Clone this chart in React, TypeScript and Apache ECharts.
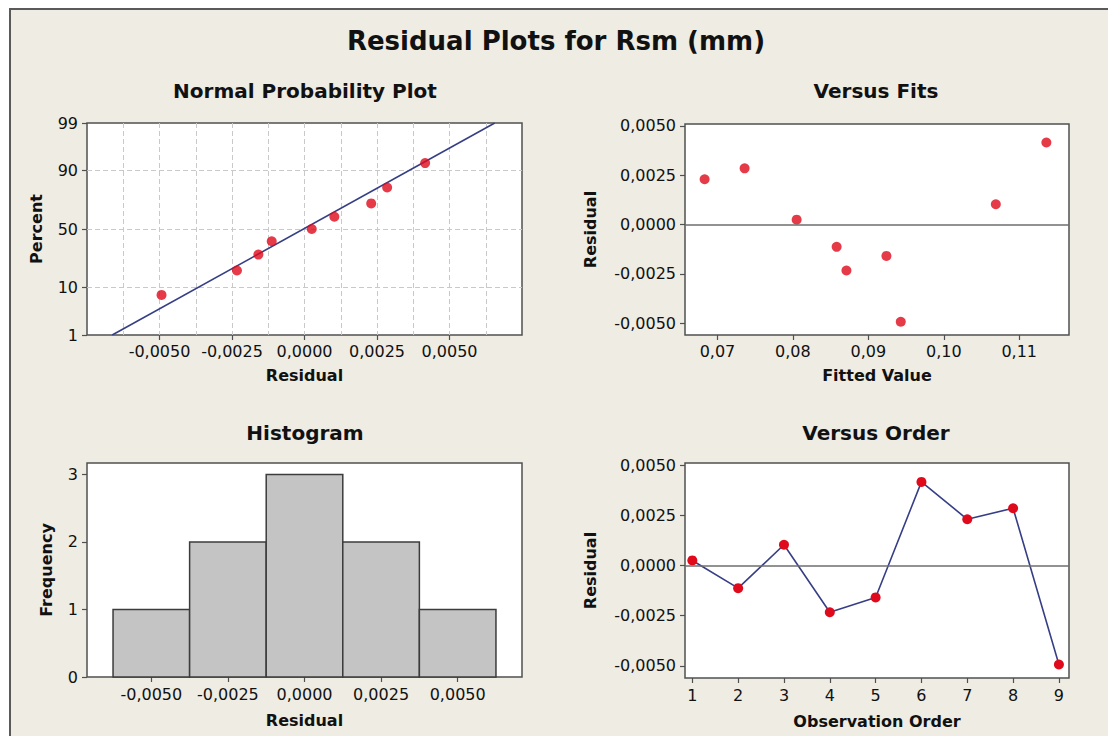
import React, { useEffect, useRef } from "react";
import * as echarts from "echarts";

// ---- data ----
const observationOrder = [1, 2, 3, 4, 5, 6, 7, 8, 9];
const residuals = [0.00025, -0.00113, 0.00103, -0.00233, -0.00159, 0.00416, 0.0023, 0.00285, -0.00493];
const fittedValues = [0.0805, 0.0858, 0.1069, 0.0871, 0.0924, 0.1136, 0.0683, 0.0736, 0.0943];
const nppPercents = [7.4, 18.1, 28.7, 39.4, 50, 60.6, 71.3, 81.9, 92.6];
const nppFitResidual = [-0.00663, 0.00656];
const nppFitPercent = [1, 99];
const percentTicks = [1, 10, 50, 90, 99];
const residualTicks = [-0.005, -0.0025, 0, 0.0025, 0.005];
const fittedTicks = [0.07, 0.08, 0.09, 0.1, 0.11];
const orderTicks = [1, 2, 3, 4, 5, 6, 7, 8, 9];
const histBinCenters = [-0.005, -0.0025, 0, 0.0025, 0.005];
const histCounts = [1, 2, 3, 2, 1];
const histBinWidth = 0.0025;
const freqTicks = [0, 1, 2, 3];

// inverse standard normal CDF (probability-axis scale)
function probit(p: number): number {
  const a = [-3.969683028665376e1, 2.209460984245205e2, -2.759285104469687e2, 1.38357751867269e2, -3.066479806614716e1, 2.506628277459239];
  const b = [-5.447609879822406e1, 1.615858368580409e2, -1.556989798598866e2, 6.680131188771972e1, -1.328068155288572e1];
  const c = [-7.784894002430293e-3, -3.223964580411365e-1, -2.400758277161838, -2.549732539343734, 4.374664141464968, 2.938163982698783];
  const d = [7.784695709041462e-3, 3.224671290700398e-1, 2.445134137142996, 3.754408661907416];
  const pl = 0.02425;
  if (p < pl) {
    const q = Math.sqrt(-2 * Math.log(p));
    return (((((c[0] * q + c[1]) * q + c[2]) * q + c[3]) * q + c[4]) * q + c[5]) / ((((d[0] * q + d[1]) * q + d[2]) * q + d[3]) * q + 1);
  }
  if (p > 1 - pl) {
    const q = Math.sqrt(-2 * Math.log(1 - p));
    return -(((((c[0] * q + c[1]) * q + c[2]) * q + c[3]) * q + c[4]) * q + c[5]) / ((((d[0] * q + d[1]) * q + d[2]) * q + d[3]) * q + 1);
  }
  const q = p - 0.5;
  const r = q * q;
  return ((((((a[0] * r + a[1]) * r + a[2]) * r + a[3]) * r + a[4]) * r + a[5]) * q) / (((((b[0] * r + b[1]) * r + b[2]) * r + b[3]) * r + b[4]) * r + 1);
}

const FONT = "DejaVu Sans";
const BG = "#eeece3";
const FRAME = "#505050";
const RED = "#df0a1c";
const NAVY = "#363f85";
const fmt = (v: number, dec: number) => (Math.abs(v) < 1e-12 ? 0 : v).toFixed(dec).replace(".", ",");

const labelStyle = { color: "#111", fontFamily: FONT, fontSize: 16 };
const nameStyle = { color: "#111", fontFamily: FONT, fontSize: 16, fontWeight: "bold" as const };
const tickStyle = { show: true, length: 5, lineStyle: { color: FRAME, width: 1.2 } };
const noLine = { show: false, onZero: false };
const dashedGrid = { show: true, showMinLine: false, showMaxLine: false, lineStyle: { color: "#c9c9c9", type: [5, 3], width: 1 } };

export default function App() {
  const ref = useRef<HTMLDivElement>(null);
  useEffect(() => {
    if (!ref.current) return;
    const chart = echarts.init(ref.current, null, { renderer: "svg" });

    const sortedRes = [...residuals].sort((a, b) => a - b);
    const zMin = probit(0.01);
    const zMax = probit(0.99);
    const percentZ = percentTicks.map((p) => probit(p / 100));

    const gridBase = { show: true, backgroundColor: "#ffffff", borderColor: FRAME, borderWidth: 1.5, containLabel: false };

    const zeroLine = {
      silent: true,
      symbol: "none",
      label: { show: false },
      lineStyle: { color: "#6e6e6e", width: 1.5, type: "solid" },
      data: [{ yAxis: 0 }],
    };

    const option: any = {
      animation: false,
      backgroundColor: "#ffffff",
      graphic: [
        { type: "rect", z: -10, shape: { x: 10, y: 9, width: 1110, height: 740 }, style: { fill: BG, stroke: "#5a5a5a", lineWidth: 2 } },
        { type: "text", x: 556, y: 41, style: { text: "Residual Plots for Rsm (mm)", font: `bold 26px ${FONT}`, fill: "#111", textAlign: "center", textVerticalAlign: "middle" } },
        { type: "text", x: 305, y: 91, style: { text: "Normal Probability Plot", font: `bold 20px ${FONT}`, fill: "#111", textAlign: "center", textVerticalAlign: "middle" } },
        { type: "text", x: 876, y: 91, style: { text: "Versus Fits", font: `bold 20px ${FONT}`, fill: "#111", textAlign: "center", textVerticalAlign: "middle" } },
        { type: "text", x: 305, y: 433, style: { text: "Histogram", font: `bold 20px ${FONT}`, fill: "#111", textAlign: "center", textVerticalAlign: "middle" } },
        { type: "text", x: 876, y: 433, style: { text: "Versus Order", font: `bold 20px ${FONT}`, fill: "#111", textAlign: "center", textVerticalAlign: "middle" } },
      ],
      grid: [
        { ...gridBase, left: 87, top: 123, width: 435, height: 212 },
        { ...gridBase, left: 685, top: 124, width: 384, height: 211 },
        { ...gridBase, left: 87, top: 463, width: 435, height: 214 },
        { ...gridBase, left: 685, top: 463, width: 384, height: 215 },
      ],
      xAxis: [
        // 0: NPP grid lines
        {
          type: "value", gridIndex: 0, position: "bottom", min: -0.0075, max: 0.0075, interval: 0.00125,
          axisLine: noLine, axisTick: { show: false }, axisLabel: { show: false },
          splitLine: dashedGrid,
        },
        // 1: NPP labels
        {
          type: "value", gridIndex: 0, position: "bottom", min: -0.0075, max: 0.0075,
          axisLine: noLine, splitLine: { show: false },
          axisTick: { ...tickStyle, customValues: residualTicks },
          axisLabel: { ...labelStyle, margin: 8, customValues: residualTicks, formatter: (v: number) => fmt(v, 4) },
          name: "Residual", nameLocation: "middle", nameGap: 32, nameTextStyle: nameStyle,
        },
        // 2: Versus Fits
        {
          type: "value", gridIndex: 1, position: "bottom", min: 0.0657, max: 0.1166,
          axisLine: noLine, splitLine: { show: false },
          axisTick: { ...tickStyle, customValues: fittedTicks },
          axisLabel: { ...labelStyle, margin: 8, customValues: fittedTicks, formatter: (v: number) => fmt(v, 2) },
          name: "Fitted Value", nameLocation: "middle", nameGap: 32, nameTextStyle: nameStyle,
        },
        // 3: Histogram
        {
          type: "value", gridIndex: 2, position: "bottom", min: -0.0071, max: 0.0071,
          axisLine: noLine, splitLine: { show: false },
          axisTick: { ...tickStyle, customValues: histBinCenters },
          axisLabel: { ...labelStyle, margin: 9, customValues: residualTicks, formatter: (v: number) => fmt(v, 4) },
          name: "Residual", nameLocation: "middle", nameGap: 35, nameTextStyle: nameStyle,
        },
        // 4: Versus Order
        {
          type: "value", gridIndex: 3, position: "bottom", min: 0.84, max: 9.22,
          axisLine: noLine, splitLine: { show: false },
          axisTick: { ...tickStyle, customValues: orderTicks },
          axisLabel: { ...labelStyle, margin: 9, customValues: orderTicks, formatter: (v: number) => String(Math.round(v)) },
          name: "Observation Order", nameLocation: "middle", nameGap: 35, nameTextStyle: nameStyle,
        },
      ],
      yAxis: [
        {
          type: "value", gridIndex: 0, position: "left", min: zMin, max: zMax,
          axisLine: noLine,
          axisTick: { ...tickStyle, customValues: percentZ },
          axisLabel: {
            ...labelStyle, margin: 9, customValues: percentZ,
            formatter: (v: number) => {
              const i = percentZ.findIndex((z) => Math.abs(z - v) < 1e-6);
              return i >= 0 ? String(percentTicks[i]) : "";
            },
          },
          splitLine: dashedGrid,
          name: "Percent", nameLocation: "middle", nameGap: 43, nameRotate: 90, nameTextStyle: nameStyle,
        },
        {
          type: "value", gridIndex: 1, position: "left", min: -0.0056, max: 0.0051,
          axisLine: noLine, splitLine: { show: false },
          axisTick: { ...tickStyle, customValues: residualTicks },
          axisLabel: { ...labelStyle, margin: 9, customValues: residualTicks, formatter: (v: number) => fmt(v, 4) },
          name: "Residual", nameLocation: "middle", nameGap: 87, nameRotate: 90, nameTextStyle: nameStyle,
        },
        {
          type: "value", gridIndex: 2, position: "left", min: 0, max: 3.17,
          axisLine: noLine, splitLine: { show: false },
          axisTick: { ...tickStyle, customValues: freqTicks },
          axisLabel: { ...labelStyle, margin: 9, customValues: freqTicks, formatter: (v: number) => String(Math.round(v)) },
          name: "Frequency", nameLocation: "middle", nameGap: 33, nameRotate: 90, nameTextStyle: nameStyle,
        },
        {
          type: "value", gridIndex: 3, position: "left", min: -0.0056, max: 0.0051,
          axisLine: noLine, splitLine: { show: false },
          axisTick: { ...tickStyle, customValues: residualTicks },
          axisLabel: { ...labelStyle, margin: 9, customValues: residualTicks, formatter: (v: number) => fmt(v, 4) },
          name: "Residual", nameLocation: "middle", nameGap: 87, nameRotate: 90, nameTextStyle: nameStyle,
        },
      ],
      series: [
        {
          type: "line", xAxisIndex: 1, yAxisIndex: 0, symbol: "none", silent: true,
          lineStyle: { color: NAVY, width: 1.6 },
          data: nppFitResidual.map((r, i) => [r, probit(nppFitPercent[i] / 100)]),
          z: 2,
        },
        {
          type: "scatter", xAxisIndex: 1, yAxisIndex: 0, symbolSize: 10,
          itemStyle: { color: RED },
          data: sortedRes.map((r, i) => [r, probit(nppPercents[i] / 100)]),
          z: 3,
        },
        {
          type: "scatter", xAxisIndex: 2, yAxisIndex: 1, symbolSize: 10,
          itemStyle: { color: RED },
          data: fittedValues.map((f, i) => [f, residuals[i]]),
          markLine: zeroLine,
        },
        {
          type: "custom", xAxisIndex: 3, yAxisIndex: 2,
          encode: { x: 0, y: 1 },
          data: histBinCenters.map((c, i) => [c, histCounts[i]]),
          renderItem: (params: any, api: any) => {
            const c = api.value(0);
            const h = api.value(1);
            const p0 = api.coord([c - histBinWidth / 2, h]);
            const p1 = api.coord([c + histBinWidth / 2, 0]);
            return {
              type: "rect",
              shape: { x: p0[0], y: p0[1], width: p1[0] - p0[0], height: p1[1] - p0[1] },
              style: { fill: "#c4c4c4", stroke: "#3c3c3c", lineWidth: 1.5 },
            };
          },
        },
        {
          type: "line", xAxisIndex: 4, yAxisIndex: 3, symbol: "circle", symbolSize: 10,
          itemStyle: { color: RED },
          lineStyle: { color: NAVY, width: 1.6 },
          data: observationOrder.map((o, i) => [o, residuals[i]]),
          markLine: zeroLine,
        },
      ],
    };

    chart.setOption(option);
    return () => chart.dispose();
  }, []);

  return <div ref={ref} style={{ position: "fixed", left: 0, top: 0, width: 1108, height: 736 }} />;
}
